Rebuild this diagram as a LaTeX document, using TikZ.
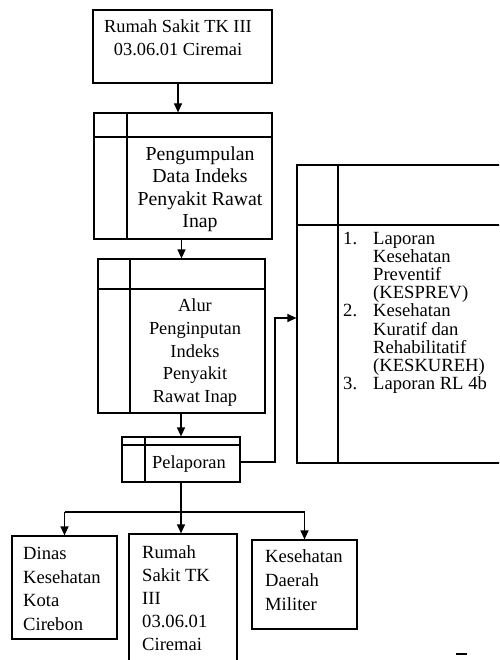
\documentclass[tikz,border=0pt]{standalone}
\usepackage{fontspec}
\setmainfont{Liberation Serif}
\usetikzlibrary{arrows.meta,calc}
\begin{document}
\begin{tikzpicture}[x=1pt,y=-1pt,
  box/.style={draw,line width=1.2pt,rectangle,inner sep=0pt},
  arr/.style={line width=1.2pt,-{Triangle[length=9pt,width=8pt]}},
  ln/.style={line width=1.2pt},
  lbl/.style={inner sep=0pt,anchor=base,font=\fontsize{18.4}{22}\selectfont},
  lblb/.style={inner sep=0pt,anchor=base,font=\fontsize{19.8}{22}\selectfont},
  lbll/.style={inner sep=0pt,anchor=base west,font=\fontsize{18.6}{22}\selectfont}]
\useasboundingbox (0,0) rectangle (499,660);
\clip (0,0) rectangle (499,660);
% box 1
\node[box,minimum width=179pt,minimum height=73pt] (b1) at (182.5,46.5) {};
\node[lbl] (t1a) at (178,33) {Rumah Sakit TK III};
\node[lbl] (t1b) at (178,56) {03.06.01 Ciremai};
% box 2
\node[box,minimum width=178pt,minimum height=126pt] (b2) at (183,176) {};
\draw[ln] (127,113) -- (127,239);
\draw[ln] (94,137) -- (272,137);
\node[lblb] (t2a) at (200,161) {Pengumpulan};
\node[lblb] (t2b) at (200,183) {Data Indeks};
\node[lblb] (t2c) at (200,205) {Penyakit Rawat};
\node[lblb] (t2d) at (200,227) {Inap};
% box 3
\node[box,minimum width=167pt,minimum height=154pt] (b3) at (181.5,336) {};
\draw[ln] (130,259) -- (130,413);
\draw[ln] (98,289) -- (265,289);
\node[lbl] (t3a) at (195,311) {Alur};
\node[lbl] (t3b) at (195,334) {Penginputan};
\node[lbl] (t3c) at (195,357) {Indeks};
\node[lbl] (t3d) at (195,379) {Penyakit};
\node[lbl] (t3e) at (195,402) {Rawat Inap};
% pelaporan
\node[box,minimum width=118pt,minimum height=45pt] (p) at (181,459.5) {};
\draw[ln] (145,437) -- (145,482);
\draw[ln] (122,445) -- (240,445);
\node[lbl] (tp) at (189,468) {Pelaporan};
% right big box
\node[box,minimum width=263pt,minimum height=298pt] (r) at (428.5,314) {};
\draw[ln] (338,165) -- (338,463);
\draw[ln] (297,225) -- (560,225);
\node[lbll] (n1) at (343,244.5) {1.};
\node[lbll] (r1) at (373,244.5) {Laporan};
\node[lbll] (r2) at (373,262.6) {Kesehatan};
\node[lbll] (r3) at (373,280.7) {Preventif};
\node[lbll] (r4) at (373,298.8) {(KESPREV)};
\node[lbll] (n2) at (343,316.9) {2.};
\node[lbll] (r5) at (373,316.9) {Kesehatan};
\node[lbll] (r6) at (373,335.0) {Kuratif dan};
\node[lbll] (r7) at (373,353.1) {Rehabilitatif};
\node[lbll] (r8) at (373,371.2) {(KESKUREH)};
\node[lbll] (n3) at (343,389.3) {3.};
\node[lbll] (r9) at (373,389.3) {Laporan RL 4b};
% bottom boxes
\node[box,minimum width=105pt,minimum height=103pt] (l) at (64.5,587.5) {};
\node[lbll] (l1) at (23,559) {Dinas};
\node[lbll] (l2) at (23,583) {Kesehatan};
\node[lbll] (l3) at (23,606) {Kota};
\node[lbll] (l4) at (23,630) {Cirebon};
\node[box,minimum width=108pt,minimum height=150pt] (m) at (183,609) {};
\node[lbll] (m1) at (142,558) {Rumah};
\node[lbll] (m2) at (142,581) {Sakit TK};
\node[lbll] (m3) at (142,604) {III};
\node[lbll] (m4) at (142,627) {03.06.01};
\node[lbll] (m5) at (142,650) {Ciremai};
\node[box,minimum width=105pt,minimum height=89pt] (k) at (304.5,584.5) {};
\node[lbll] (k1) at (265,562) {Kesehatan};
\node[lbll] (k2) at (265,586) {Daerah};
\node[lbll] (k3) at (265,610) {Militer};
% connectors
\coordinate (c1) at (178,0);
\draw[arr] (b1.south -| c1) -- (b2.north -| c1);
\draw[arr] (b2.south -| b3.north) -- (b3.north);
\draw[arr] (b3.south -| p.north) -- (p.north);
\coordinate (kk) at (275,318);
\draw[arr] (240,462) -| (kk) -- (kk -| r.west);
\coordinate (j) at (181,512);
\draw[ln] (p.south) -- (j);
\draw[ln] (l.north |- j) -- (k.north |- j);
\draw[arr] (l.north |- j) -- (l.north);
\draw[arr] (j) -- (j |- m.north);
\draw[arr] (k.north |- j) -- (k.north);
% stray dash
\coordinate (d1) at (456,654);
\coordinate (d2) at (467,654);
\draw[line width=1.3pt] (d1) -- (d2);
\end{tikzpicture}
\end{document}
